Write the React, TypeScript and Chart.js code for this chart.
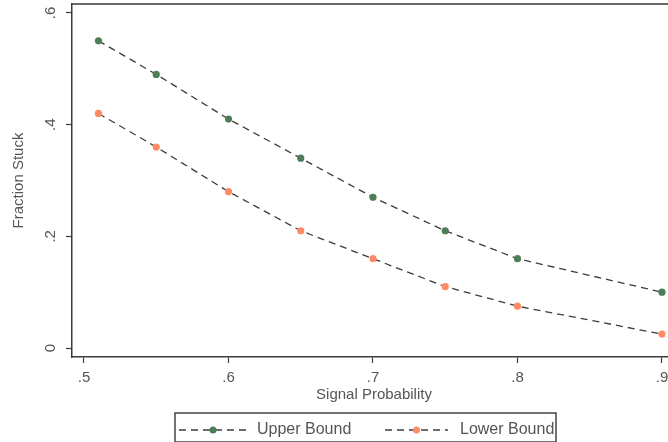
import React, { useEffect, useRef } from "react";
import { Chart, registerables } from "chart.js";

Chart.register(...registerables);

const signalProb = [0.51, 0.55, 0.6, 0.65, 0.7, 0.75, 0.8, 0.9];
const upperBound = [0.55, 0.49, 0.41, 0.34, 0.27, 0.21, 0.16, 0.1];
const lowerBound = [0.42, 0.36, 0.28, 0.21, 0.16, 0.11, 0.075, 0.025];
const xTicks = [0.5, 0.6, 0.7, 0.8, 0.9];
const xTickLabels = [".5", ".6", ".7", ".8", ".9"];
const yTicks = [0, 0.2, 0.4, 0.6];
const yTickLabels = ["0", ".2", ".4", ".6"];
const seriesLabels = ["Upper Bound", "Lower Bound"];

const FONT = "'Liberation Sans', Arial, sans-serif";
const TEXT = "#555555";
const AXIS = "#3a3a3a";
const LINE = "#3c3c3c";
const GREEN = "#4f7d58";
const ORANGE = "#ff8a66";
const DASH = [7, 5];

const frameAndLegend = {
  id: "frameAndLegend",
  afterDraw(chart: any) {
    const { ctx, chartArea } = chart;
    ctx.save();
    // plot region outline (top + right)
    ctx.strokeStyle = AXIS;
    ctx.lineWidth = 1.5;
    ctx.beginPath();
    ctx.moveTo(chartArea.left, chartArea.top);
    ctx.lineTo(chartArea.right, chartArea.top);
    ctx.lineTo(chartArea.right, chartArea.bottom);
    ctx.stroke();

    // legend box
    const bx = 175, by = 413, bw = 381, bh = 29;
    ctx.strokeStyle = "#444444";
    ctx.lineWidth = 1.5;
    ctx.strokeRect(bx, by, bw, bh);

    const items = [
      { x0: 179, x1: 247, text: 257 },
      { x0: 385, x1: 448, text: 460 },
    ];
    const cy = 430;
    chart.data.datasets.forEach((ds: any, i: number) => {
      const it = items[i];
      ctx.strokeStyle = LINE;
      ctx.lineWidth = 1.3;
      ctx.setLineDash(DASH);
      ctx.beginPath();
      ctx.moveTo(it.x0, cy);
      ctx.lineTo(it.x1, cy);
      ctx.stroke();
      ctx.setLineDash([]);
      ctx.fillStyle = ds.pointBackgroundColor;
      ctx.beginPath();
      ctx.arc((it.x0 + it.x1) / 2, cy, 3.5, 0, Math.PI * 2);
      ctx.fill();
      ctx.fillStyle = TEXT;
      ctx.font = `16px ${FONT}`;
      ctx.textAlign = "left";
      ctx.textBaseline = "middle";
      ctx.fillText(ds.label, it.text, cy);
    });
    ctx.restore();
  },
};

export default function App() {
  const ref = useRef<HTMLCanvasElement | null>(null);

  useEffect(() => {
    if (!ref.current) return;
    const mk = (vals: number[], color: string, label: string) => ({
      label,
      data: signalProb.map((x, i) => ({ x, y: vals[i] })),
      borderColor: LINE,
      borderWidth: 1.3,
      borderDash: DASH,
      pointRadius: 3.6,
      pointBackgroundColor: color,
      pointBorderColor: color,
      pointBorderWidth: 0,
      tension: 0,
      fill: false,
    });
    const chart = new Chart(ref.current, {
      type: "line",
      data: {
        datasets: [
          mk(upperBound, GREEN, seriesLabels[0]),
          mk(lowerBound, ORANGE, seriesLabels[1]),
        ],
      },
      options: {
        animation: false,
        responsive: false,
        devicePixelRatio: 1,
        layout: { padding: { left: 0, top: 4, right: 14, bottom: 0 } },
        plugins: { legend: { display: false }, tooltip: { enabled: false } },
        scales: {
          x: {
            type: "linear",
            min: 0.4917,
            max: 0.9097,
            afterFit: (s: any) => {
              s.height = 85;
              s.paddingLeft = 0;
              s.paddingRight = 0;
            },
            afterBuildTicks: (s: any) => {
              s.ticks = xTicks.map((v) => ({ value: v }));
            },
            ticks: {
              autoSkip: false,
              maxRotation: 0,
              minRotation: 0,
              padding: 6,
              color: TEXT,
              font: { family: FONT, size: 15 },
              callback: (v: any) => {
                const i = xTicks.findIndex((t) => Math.abs(t - Number(v)) < 1e-6);
                return i >= 0 ? xTickLabels[i] : "";
              },
            },
            grid: {
              drawOnChartArea: false,
              drawTicks: true,
              tickLength: 6,
              tickColor: AXIS,
              tickWidth: 1.2,
            },
            border: { display: true, color: AXIS, width: 1.5 },
            title: {
              display: true,
              text: "Signal Probability",
              color: TEXT,
              font: { family: FONT, size: 15 },
              padding: { top: 0, bottom: 38 },
            },
          },
          y: {
            type: "linear",
            min: -0.016,
            max: 0.616,
            afterFit: (s: any) => {
              s.width = 72;
              s.paddingTop = 0;
              s.paddingBottom = 0;
            },
            afterBuildTicks: (s: any) => {
              s.ticks = yTicks.map((v) => ({ value: v }));
            },
            ticks: {
              autoSkip: false,
              minRotation: 90,
              maxRotation: 90,
              crossAlign: "center",
              padding: 9,
              color: TEXT,
              font: { family: FONT, size: 15 },
              callback: (v: any) => {
                const i = yTicks.findIndex((t) => Math.abs(t - Number(v)) < 1e-6);
                return i >= 0 ? yTickLabels[i] : "";
              },
            },
            grid: {
              drawOnChartArea: false,
              drawTicks: true,
              tickLength: 6,
              tickColor: AXIS,
              tickWidth: 1.2,
            },
            border: { display: true, color: AXIS, width: 1.5 },
            title: {
              display: true,
              text: "Fraction Stuck",
              color: TEXT,
              font: { family: FONT, size: 15 },
              padding: { top: 10, bottom: 0 },
            },
          },
        },
      },
      plugins: [frameAndLegend],
    });
    return () => chart.destroy();
  }, []);

  return (
    <div
      style={{
        position: "fixed",
        left: 0,
        top: 0,
        width: 668,
        height: 442,
        overflow: "hidden",
        background: "#ffffff",
      }}
    >
      <canvas ref={ref} width={690} height={442} style={{ display: "block" }} />
    </div>
  );
}
